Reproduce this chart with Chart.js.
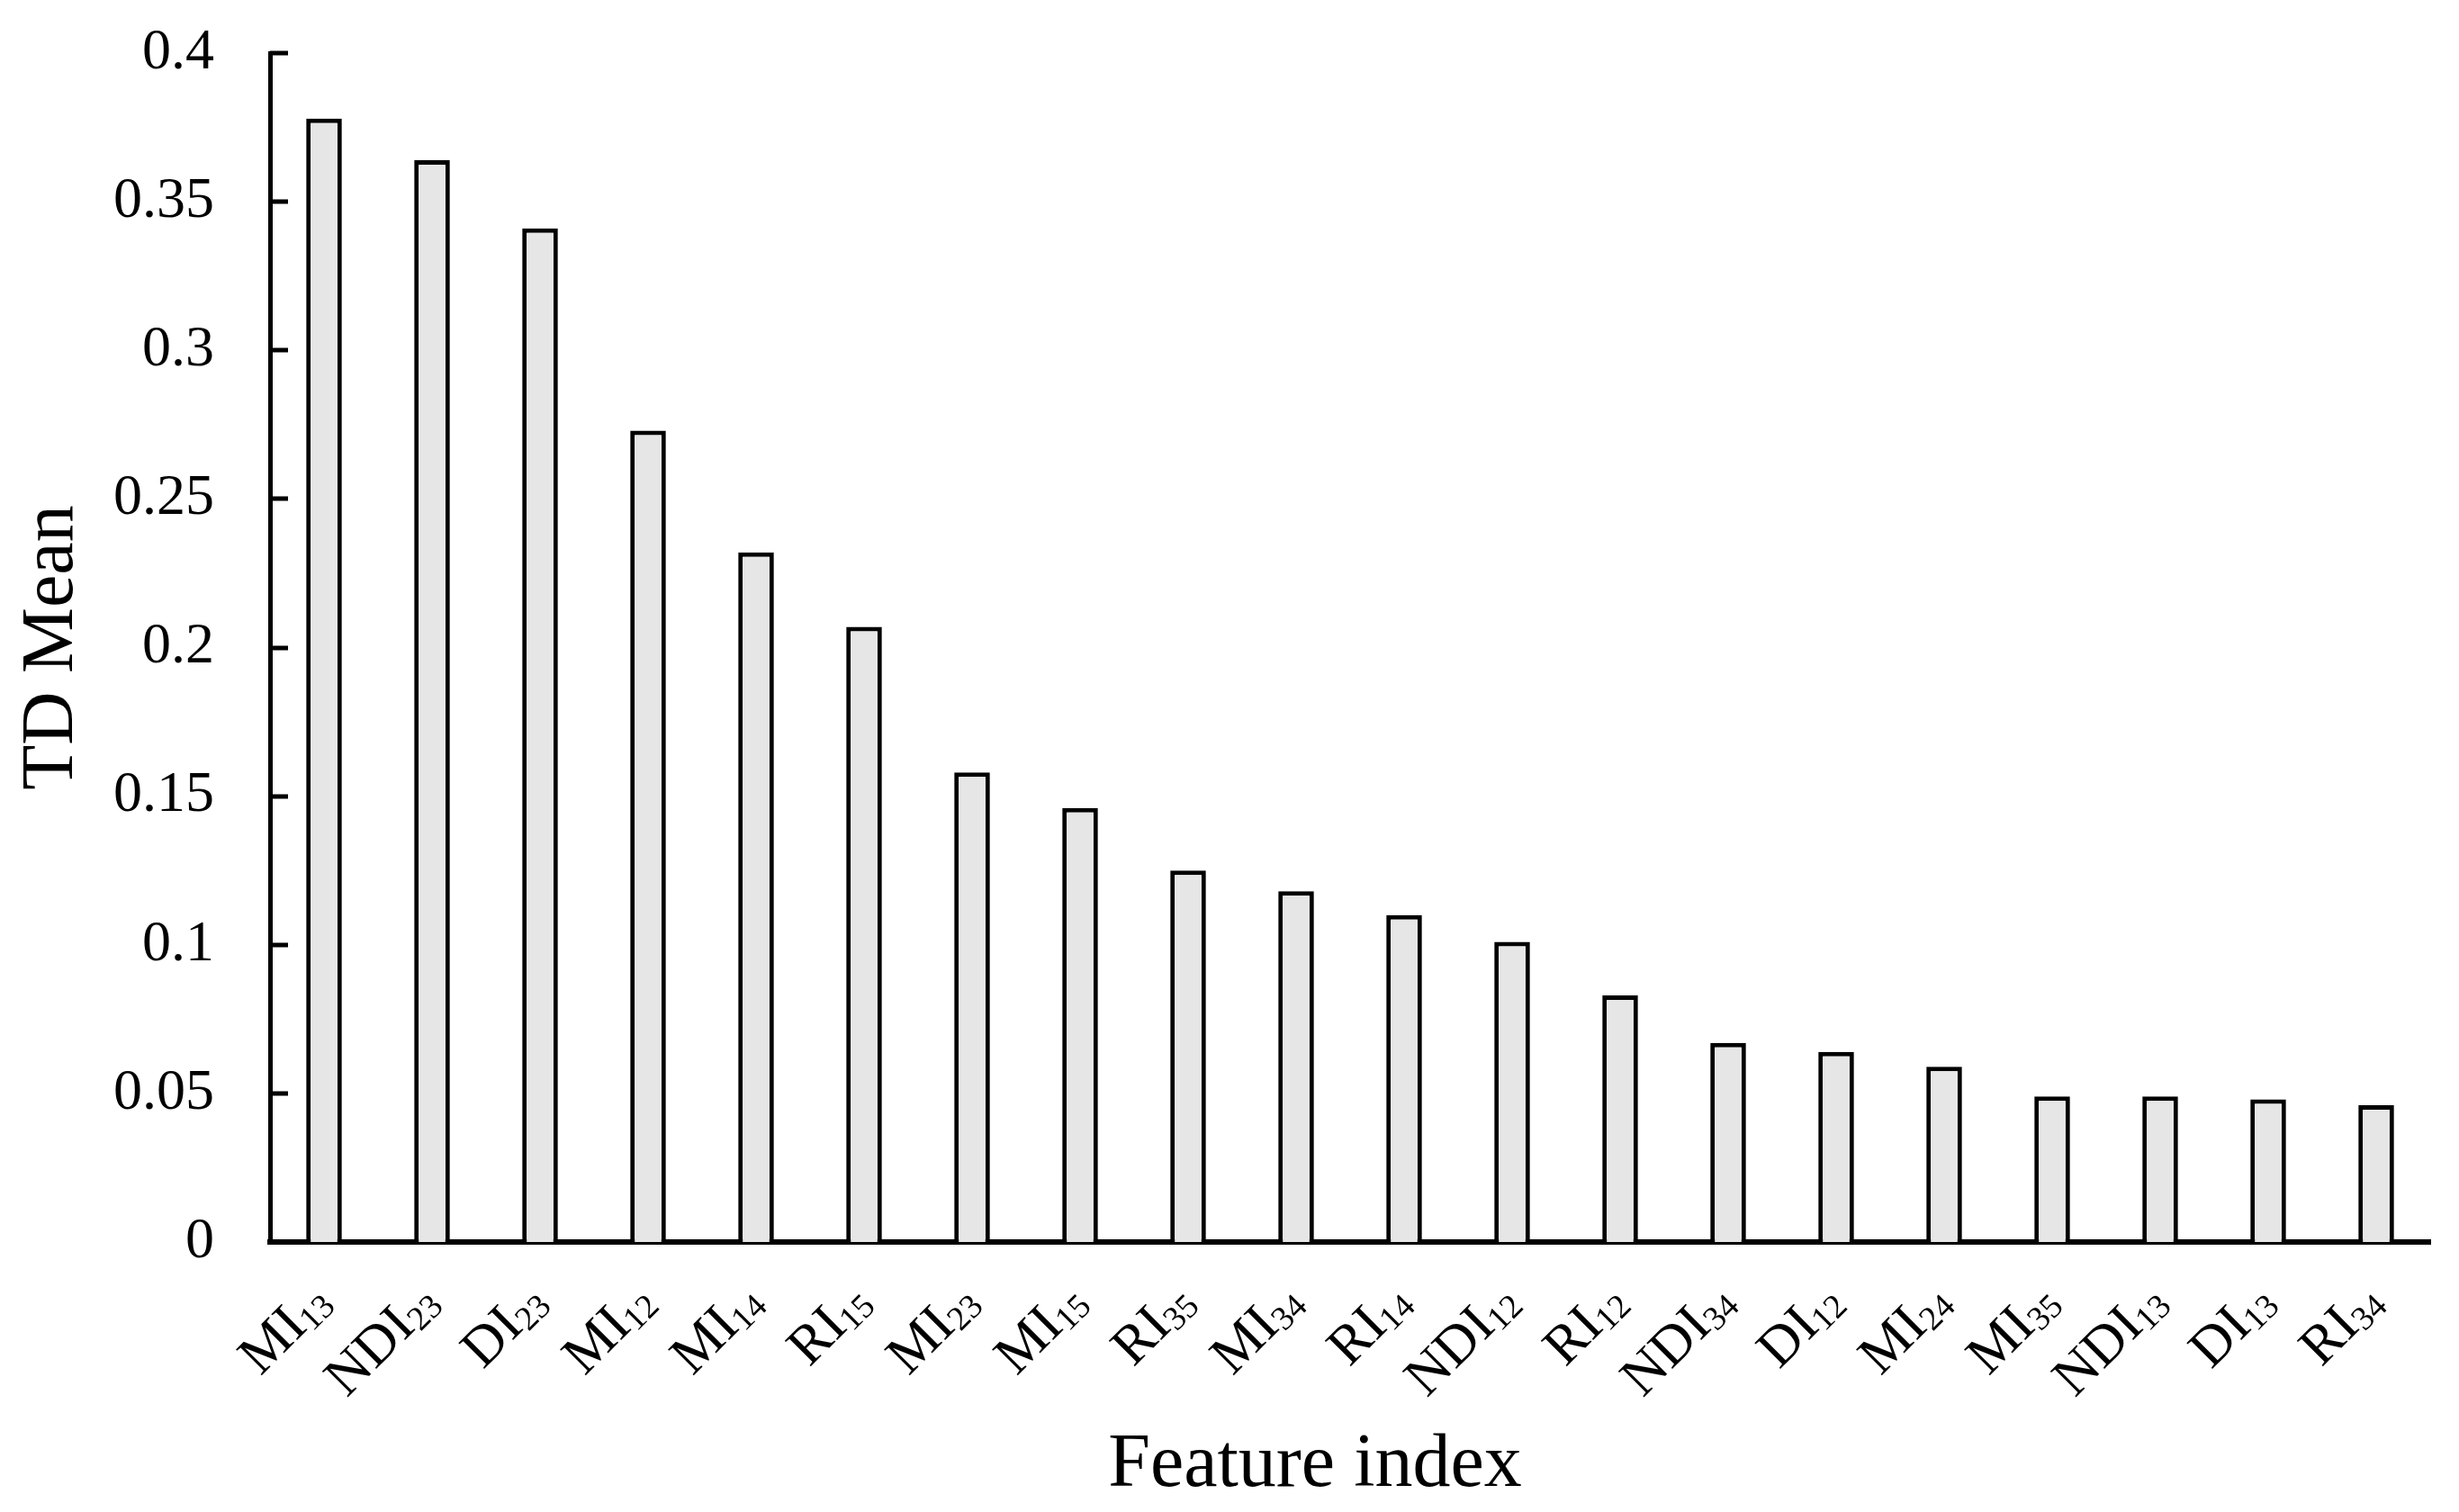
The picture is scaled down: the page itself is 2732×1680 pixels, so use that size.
<!DOCTYPE html>
<html>
<head>
<meta charset="utf-8">
<script src="https://cdn.jsdelivr.net/npm/chart.js@4/dist/chart.umd.min.js"></script>
<style>
  html, body { margin: 0; padding: 0; background: #fff; }
  #wrap { width: 2732px; height: 1680px; position: relative; }
</style>
</head>
<body>
<div id="wrap"><canvas id="barChart"></canvas></div>
<script>
// feature index names and their subscripts (band pairs)
var indexNames = ['MI', 'NDI', 'DI', 'MI', 'MI', 'RI', 'MI', 'MI', 'RI', 'MI',
                  'RI', 'NDI', 'RI', 'NDI', 'DI', 'MI', 'MI', 'NDI', 'DI', 'RI'];
var indexSubs = ['13', '23', '23', '12', '14', '15', '23', '15', '35', '34',
                 '14', '12', '12', '34', '12', '24', '35', '13', '13', '34'];
var tdMean = [0.378, 0.364, 0.341, 0.273, 0.232, 0.207, 0.158, 0.146, 0.125, 0.118,
              0.110, 0.101, 0.083, 0.067, 0.064, 0.059, 0.049, 0.049, 0.048, 0.046];
var yMin = 0, yMax = 0.4, yStep = 0.05;

var categories = indexNames.map(function (n, i) { return n + indexSubs[i]; });
var serif = "'Liberation Serif', 'Times New Roman', serif";

// inward y ticks, rotated labels with subscripts, x title
var axisExtras = {
  id: 'axisExtras',
  afterDraw: function (chart) {
    var ctx = chart.ctx;
    var xs = chart.scales.x, ys = chart.scales.y;
    ctx.save();
    ctx.strokeStyle = '#000';
    ctx.lineWidth = 5;
    ys.ticks.forEach(function (t, i) {
      var py = Math.round(ys.getPixelForTick(i));
      ctx.beginPath();
      ctx.moveTo(xs.left, py);
      ctx.lineTo(xs.left + 20, py);
      ctx.stroke();
    });

    ctx.fillStyle = '#000';
    ctx.textBaseline = 'alphabetic';
    ctx.textAlign = 'left';
    indexNames.forEach(function (name, i) {
      var cx = xs.getPixelForTick(i);
      ctx.save();
      ctx.translate(cx + 10, ys.bottom + 69);
      ctx.rotate(-Math.PI / 4);
      ctx.font = '38px ' + serif;
      var wSub = ctx.measureText(indexSubs[i]).width;
      ctx.fillText(indexSubs[i], -wSub, 6);
      ctx.font = '62px ' + serif;
      var wMain = ctx.measureText(name).width;
      ctx.fillText(name, -wSub - wMain, 0);
      ctx.restore();
    });

    ctx.font = '84px ' + serif;
    ctx.textAlign = 'center';
    ctx.textBaseline = 'middle';
    ctx.fillText('Feature index', 1461, 1629);
    ctx.restore();
  }
};

var ctxB = document.getElementById('barChart');
var myBarChart = new Chart(ctxB, {
  type: 'bar',
  data: {
    labels: categories,
    datasets: [{
      label: 'TD Mean',
      data: tdMean,
      backgroundColor: '#e6e6e6',
      borderColor: '#000',
      borderWidth: 5,
      barPercentage: 0.33,
      categoryPercentage: 1
    }]
  },
  options: {
    responsive: true,
    maintainAspectRatio: false,
    animation: false,
    devicePixelRatio: 1,
    layout: { padding: { left: 0, top: 59, right: 32, bottom: 0 } },
    plugins: { legend: { display: false }, tooltip: { enabled: false } },
    scales: {
      x: {
        grid: { display: false, drawTicks: false },
        border: { display: true, color: '#000', width: 6 },
        ticks: { display: false },
        afterFit: function (scale) { scale.height = 300; }
      },
      y: {
        min: yMin,
        max: yMax,
        grid: { display: false, drawTicks: false },
        border: { display: true, color: '#000', width: 5 },
        ticks: {
          stepSize: yStep,
          padding: 62,
          color: '#000',
          font: { family: serif, size: 64 },
          callback: function (v) { return String(+v.toFixed(2)); }
        },
        title: {
          display: true,
          text: 'TD Mean',
          color: '#000',
          font: { family: serif, size: 82 },
          padding: { top: 9, bottom: 0 }
        },
        afterFit: function (scale) {
          scale.width = 300;
          scale.paddingTop = 0;
          scale.paddingBottom = 0;
        }
      }
    }
  },
  plugins: [axisExtras]
});
</script>
</body>
</html>
